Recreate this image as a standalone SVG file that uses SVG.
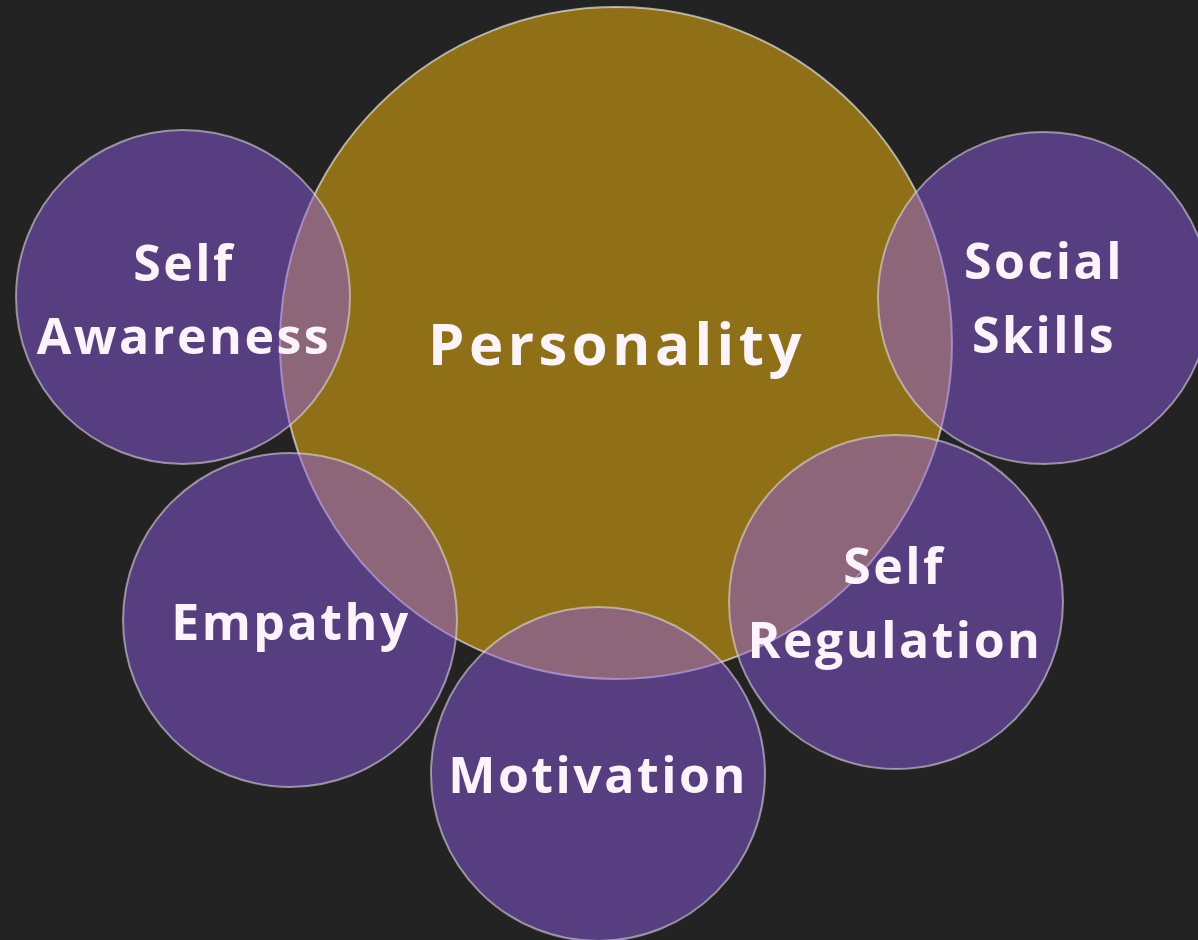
<svg xmlns="http://www.w3.org/2000/svg" width="1198" height="940" viewBox="0 0 1198 940">
<style>
.bg{fill:#232323}
.core{fill:#8f7016;stroke:rgba(225,225,225,0.7);stroke-width:2}
.sat{fill:rgb(143,93,229);fill-opacity:0.48;stroke:rgba(230,230,230,0.55);stroke-width:2}
.lbl{font-family:"Open Sans","Lato",sans-serif;font-weight:700;fill:#fbf4fb;text-anchor:middle;letter-spacing:2.5px;font-size:50px}
.big{font-size:58px;letter-spacing:4.5px}
</style>
<rect class="bg" x="0" y="0" width="1198" height="940"/>
<g id="personality">
<circle class="core" cx="616" cy="343" r="336"/>
</g>
<g id="self-awareness">
<circle class="sat" cx="183" cy="297" r="167"/>
</g>
<g id="social-skills">
<circle class="sat" cx="1044" cy="298" r="166"/>
</g>
<g id="empathy">
<circle class="sat" cx="290" cy="620" r="167"/>
</g>
<g id="self-regulation">
<circle class="sat" cx="896" cy="602" r="167"/>
</g>
<g id="motivation">
<circle class="sat" cx="598" cy="774" r="167"/>
</g>
<g id="connectors"></g>
<g id="labels">
<text class="lbl big" x="617" y="365">Personality</text>
<text class="lbl" x="184" y="281">Self</text>
<text class="lbl" x="184" y="354">Awareness</text>
<text class="lbl" x="1044" y="279">Social</text>
<text class="lbl" x="1044" y="353">Skills</text>
<text class="lbl" x="291" y="640">Empathy</text>
<text class="lbl" x="894" y="584">Self</text>
<text class="lbl" x="895" y="658">Regulation</text>
<text class="lbl" x="598" y="793">Motivation</text>
</g>
</svg>
